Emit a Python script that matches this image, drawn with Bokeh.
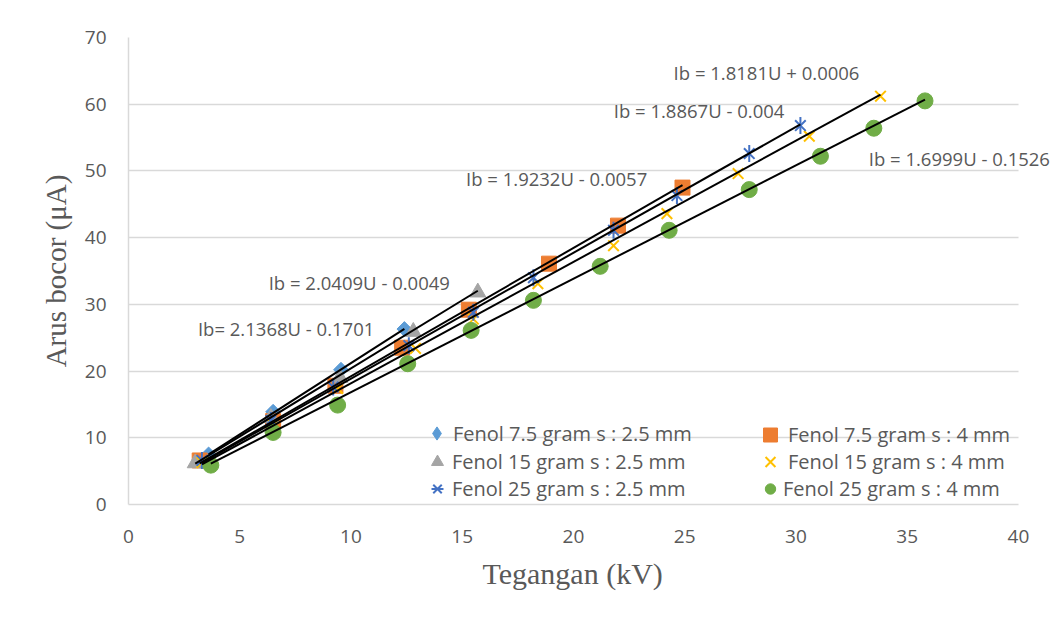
import math
from bokeh.plotting import figure
from bokeh.models import Range1d, Legend, LegendItem, Label, FixedTicker, Title
from bokeh.embed import file_html
from bokeh.resources import INLINE

# ---------------- data ----------------
x_ticks = [0, 5, 10, 15, 20, 25, 30, 35, 40]
y_ticks = [0, 10, 20, 30, 40, 50, 60, 70]

x_f75_25 = [3.6, 6.5, 9.55, 12.4]
y_f75_25 = [7.5, 13.9, 20.2, 26.3]

x_f75_4 = [3.2, 6.5, 9.3, 12.3, 15.3, 18.9, 22.0, 24.9]
y_f75_4 = [6.6, 12.5, 17.8, 23.5, 29.2, 36.1, 41.8, 47.5]

x_f15_25 = [3.0, 6.4, 9.5, 12.8, 15.7]
y_f15_25 = [6.2, 13.0, 19.0, 25.9, 31.8]

x_f15_4 = [3.3, 6.5, 9.4, 12.9, 15.5, 18.4, 21.8, 24.2, 27.4, 30.6, 33.8]
y_f15_4 = [6.3, 12.0, 17.4, 23.4, 27.8, 33.1, 38.8, 43.6, 49.6, 55.2, 61.2]

x_f25_25 = [3.3, 6.4, 9.2, 12.6, 15.5, 18.2, 21.8, 24.65, 27.9, 30.2]
y_f25_25 = [6.6, 12.6, 17.6, 23.8, 28.8, 34.0, 41.1, 46.3, 52.6, 56.8]

x_f25_4 = [3.7, 6.5, 9.4, 12.55, 15.4, 18.2, 21.2, 24.3, 27.9, 31.1, 33.5, 35.8]
y_f25_4 = [5.9, 10.8, 14.9, 21.1, 26.1, 30.6, 35.7, 41.1, 47.2, 52.2, 56.4, 60.5]

series_names = [
    "Fenol 7.5 gram s : 2.5 mm",
    "Fenol 7.5 gram s : 4 mm",
    "Fenol 15 gram s : 2.5 mm",
    "Fenol 15 gram s : 4 mm",
    "Fenol 25 gram s : 2.5 mm",
    "Fenol 25 gram s : 4 mm",
]
slopes = [2.1368, 1.9232, 2.0409, 1.8181, 1.8867, 1.6999]
intercepts = [-0.1701, -0.0057, -0.0049, 0.0006, -0.004, -0.1526]
eq_texts = [
    "Ib= 2.1368U - 0.1701",
    "Ib = 1.9232U - 0.0057",
    "Ib = 2.0409U - 0.0049",
    "Ib = 1.8181U + 0.0006",
    "Ib = 1.8867U - 0.004",
    "Ib = 1.6999U - 0.1526",
]
eq_pos_x = [3.12, 15.17, 6.3, 24.5, 21.81, 33.27]
eq_pos_y = [26.4, 48.9, 33.3, 64.8, 59.1, 51.9]

xs_all = [x_f75_25, x_f75_4, x_f15_25, x_f15_4, x_f25_25, x_f25_4]
ys_all = [y_f75_25, y_f75_4, y_f15_25, y_f15_4, y_f25_25, y_f25_4]

# ---------------- styling ----------------
TXT = "#595959"
GRID = "#d9d9d9"
FONT = "Open Sans"
X_END = 41.89  # frame extends past 40 so that the right-most label is not clipped

p = figure(width=1060, height=619, output_backend="svg", toolbar_location=None,
           x_range=Range1d(0, X_END), y_range=Range1d(0, 70))
p.min_border_left = 128
p.min_border_right = 0
p.min_border_top = 37
p.min_border_bottom = 115
p.outline_line_color = None
p.background_fill_color = "white"
p.border_fill_color = "white"

p.xgrid.grid_line_color = None
p.ygrid.grid_line_color = GRID
p.ygrid.grid_line_width = 1.5
p.ygrid.cross_bounds = (x_ticks[0], x_ticks[-1])

for ax in (p.xaxis[0], p.yaxis[0]):
    ax.axis_line_color = GRID
    ax.axis_line_width = 1.5
    ax.major_tick_line_color = None
    ax.minor_tick_line_color = None
    ax.major_tick_in = 0
    ax.major_tick_out = 0
    ax.major_label_text_font = FONT
    ax.major_label_text_font_size = "19px"
    ax.major_label_text_color = TXT

p.xaxis.bounds = (x_ticks[0], x_ticks[-1])
p.xaxis.ticker = FixedTicker(ticks=x_ticks)
p.yaxis.ticker = FixedTicker(ticks=y_ticks)
p.xaxis.major_label_standoff = 25
p.yaxis.major_label_standoff = 22
p.yaxis.axis_label = "Arus bocor (μA)"
p.yaxis.axis_label_standoff = 10
p.yaxis.axis_label_text_font = "Liberation Serif"
p.yaxis.axis_label_text_font_size = "29px"
p.yaxis.axis_label_text_font_style = "normal"
p.yaxis.axis_label_text_color = TXT

xt = Title(text="Tegangan (kV)", align="left", offset=354, standoff=18,
           text_font="Liberation Serif", text_font_size="30px",
           text_font_style="normal", text_color=TXT)
p.add_layout(xt, "below")

# markers
r_d = p.scatter(x_f75_25, y_f75_25, marker="square", size=10.5, angle=math.pi / 4,
                fill_color="#5B9BD5", line_color="#5B9BD5")
r_d_leg = p.scatter(x_f75_25, y_f75_25, marker="diamond", size=10, visible=False,
                    fill_color="#5B9BD5", line_color="#5B9BD5")
r_s = p.scatter(x_f75_4, y_f75_4, marker="square", size=15,
                fill_color="#ED7D31", line_color="#ED7D31")
r_t = p.scatter(x_f15_25, y_f15_25, marker="triangle", size=16,
                fill_color="#A5A5A5", line_color="#A5A5A5")
r_x = p.scatter(x_f15_4, y_f15_4, marker="x", size=15,
                line_color="#FFC000", line_width=2)
r_a1 = p.scatter(x_f25_25, y_f25_25, marker="x", size=15,
                 line_color="#4472C4", line_width=2)
r_a2 = p.scatter(x_f25_25, y_f25_25, marker="dash", size=17, angle=math.pi / 2,
                 line_color="#4472C4", line_width=2)
r_c = p.scatter(x_f25_4, y_f25_4, marker="circle", size=16,
                fill_color="#70AD47", line_color="#70AD47")

# trendlines
for xs, m, b in zip(xs_all, slopes, intercepts):
    lx = [min(xs), max(xs)]
    ly = [m * v + b for v in lx]
    p.line(lx, ly, line_color="black", line_width=2)

# equation labels
for t, ex, ey in zip(eq_texts, eq_pos_x, eq_pos_y):
    p.add_layout(Label(x=ex, y=ey, text=t, text_font=FONT, text_font_size="18.5px",
                       text_color=TXT, text_baseline="middle", text_align="left"))

# legend: one small legend per entry (2 columns x 3 rows)
entries = [
    (series_names[0], [r_d_leg], (292, 52), 33, 38),
    (series_names[2], [r_t], (294, 25), 30, 35),
    (series_names[4], [r_a1, r_a2], (294, -2), 30, 35),
    (series_names[1], [r_s], (624, 52), 36, 35),
    (series_names[3], [r_x], (624, 25), 36, 35),
    (series_names[5], [r_c], (629, -2), 26, 35),
]
for label, rends, loc, gw, gh in entries:
    lg = Legend(items=[LegendItem(label=label, renderers=rends)], location=loc)
    lg.glyph_width = gw
    lg.glyph_height = gh
    lg.padding = 0
    lg.margin = 0
    lg.spacing = 0
    lg.label_standoff = 0
    lg.label_text_font = FONT
    lg.label_text_font_size = "20px"
    lg.label_text_color = TXT
    lg.border_line_alpha = 0
    lg.background_fill_alpha = 0
    lg.inactive_fill_alpha = 0
    p.add_layout(lg)

open("out.html", "w").write(file_html(p, INLINE))
